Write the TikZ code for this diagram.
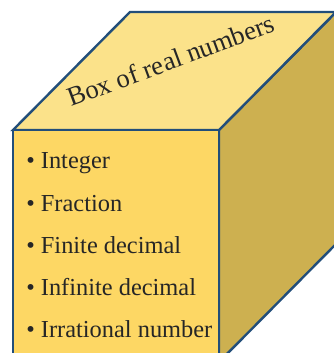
\documentclass[tikz,border=0pt]{standalone}
\usepackage{fontspec}
\setmainfont{Liberation Serif}
\usepackage{xcolor}
\usepackage{tikz}
\usetikzlibrary{calc}

\definecolor{frontface}{RGB}{253,215,100}
\definecolor{topface}{RGB}{251,226,138}
\definecolor{sideface}{RGB}{205,176,80}
\definecolor{edgeblue}{RGB}{34,78,122}

\begin{document}
\begin{tikzpicture}[x=0.75pt, y=-0.75pt,
    face/.style={draw=edgeblue, line width=1.8pt, line join=miter},
    item/.style={anchor=base west, inner sep=0pt, text=black!85,
                 font=\fontsize{18.3}{20}\selectfont}]
    % Picture frame
    \useasboundingbox (0,0) rectangle (334,353);
    \clip (0,0) rectangle (334,353);

    % Corners of the box
    \coordinate (A) at (13,130);
    \coordinate (B) at (219,130);
    \coordinate (C) at (219,362);
    \coordinate (D) at (13,362);
    \coordinate (A2) at ($(A)+(117,-118)$);
    \coordinate (B2) at ($(B)+(117,-118)$);
    \coordinate (C2) at ($(C)+(117,-118)$);

    % Faces
    \filldraw[face, fill=sideface] (B) -- (B2) -- (C2) -- (C) -- cycle;
    \filldraw[face, fill=topface] (A) -- (A2) -- (B2) -- (B) -- cycle;
    \filldraw[face, fill=frontface] (A) -- (B) -- (C) -- (D) -- cycle;

    % Label on the lid
    \node[anchor=base, inner sep=0pt, rotate=20.3, text=black!85,
          font=\fontsize{20}{22}\selectfont] (title) at (174,69)
          {Box of real numbers};

    % List on the front
    \node[item] (integer) at (26,168) {\textbullet\ Integer};
    \node[item] (fraction) at (26,211) {\textbullet\ Fraction};
    \node[item] (finite) at (26,253) {\textbullet\ Finite decimal};
    \node[item] (infinite) at (26,295) {\textbullet\ Infinite decimal};
    \node[item] (irrational) at (26,337) {\textbullet\ Irrational number};
\end{tikzpicture}
\end{document}
